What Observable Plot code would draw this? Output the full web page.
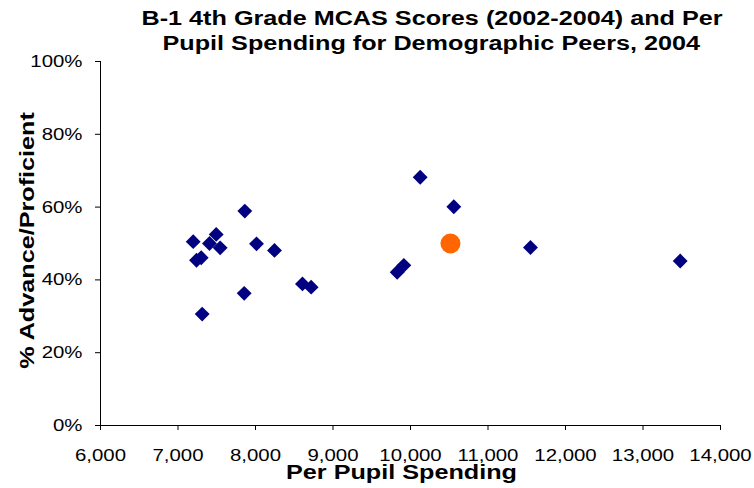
<!DOCTYPE html>
<html>
<head>
<meta charset="utf-8">
<script src="https://cdn.jsdelivr.net/npm/d3@7"></script>
<script src="https://cdn.jsdelivr.net/npm/@observablehq/plot@0.6"></script>
<style>
  html, body { margin: 0; padding: 0; background: #fff; }
  #chart svg { display: block; }
</style>
</head>
<body>
<div id="chart"></div>
<script>
// Demographic peers: per pupil spending and % Advanced/Proficient
const peerSpending = [7862, 7196, 7493, 7406, 7544, 8013, 8245, 7239, 7299, 7854, 7312, 8606, 8718, 10125, 10559, 11548, 13480, 9828, 9914];
const peerPct      = [58.9, 50.5, 52.5, 50.0, 48.8, 49.9, 48.1, 45.4, 46.1, 36.3, 30.6, 38.9, 38.0, 68.2, 60.1, 48.9, 45.2, 42.1, 44.0];
// District (highlighted)
const districtSpending = [10516];
const districtPct      = [50.0];
// Axis ticks
const xTicks = [6000, 7000, 8000, 9000, 10000, 11000, 12000, 13000, 14000];
const yTicks = [0, 20, 40, 60, 80, 100];
// Text
const titleLines = ["B-1 4th Grade MCAS Scores (2002-2004) and Per", "Pupil Spending for Demographic Peers, 2004"];
const xLabel = "Per Pupil Spending";
const yLabel = "% Advance/Proficient";

const peers = peerSpending.map((s, i) => ({spending: s, pct: peerPct[i]}));
const district = districtSpending.map((s, i) => ({spending: s, pct: districtPct[i]}));

const font = "'Liberation Sans', Arial, sans-serif";

const chart = Plot.plot({
  width: 754,
  height: 488,
  marginLeft: 100,
  marginRight: 34,
  marginTop: 61,
  marginBottom: 63,
  style: {fontFamily: font, fontSize: "17px", color: "#000", background: "#fff"},
  x: {domain: [6000, 14000]},
  y: {domain: [0, 100]},
  marks: [
    Plot.axisX({ticks: xTicks, tickFormat: d3.format(","), tickSize: 5, tickPadding: 18, label: null, fontSize: 17, stroke: "#000"}),
    Plot.axisY({ticks: yTicks, tickFormat: d => d + "%", tickSize: 5, tickPadding: 13, label: null, fontSize: 17, stroke: "#000"}),
    Plot.ruleX([6000], {y1: 0, y2: 100, stroke: "#000"}),
    Plot.ruleY([0], {stroke: "#000"}),
    Plot.dot(peers, {x: "spending", y: "pct", symbol: "diamond2", r: 6.7, fill: "#000080", stroke: "none"}),
    Plot.dot(district, {x: "spending", y: "pct", symbol: "circle", r: 10, fill: "#FF6600", stroke: "none"}),
    Plot.text([titleLines[0]], {frameAnchor: "top-left", dx: 41, dy: -37, textAnchor: "start", lineAnchor: "bottom", fontSize: 21, fontWeight: "bold", fill: "#000"}),
    Plot.text([titleLines[1]], {frameAnchor: "top-left", dx: 62, dy: -12, textAnchor: "start", lineAnchor: "bottom", fontSize: 21, fontWeight: "bold", fill: "#000"}),
    Plot.text([xLabel], {frameAnchor: "bottom", dx: -9, dy: 53, textAnchor: "middle", lineAnchor: "bottom", fontSize: 21, fontWeight: "bold", fill: "#000"}),
    Plot.text([yLabel], {frameAnchor: "left", dx: -67, dy: -3, rotate: -90, textAnchor: "middle", lineAnchor: "bottom", fontSize: 21, fontWeight: "bold", fill: "#000"})
  ]
});

document.getElementById("chart").appendChild(chart);

// The reference renders its type stretched horizontally (~1.2x): scale glyphs about each text's anchor
const stretch = 1.2;
chart.querySelectorAll("text").forEach(t => {
  const b = t.getBBox();
  if (!b.width) return;
  const anchor = getComputedStyle(t).textAnchor;
  const ax = anchor === "end" ? b.x + b.width : anchor === "middle" ? b.x + b.width / 2 : b.x;
  const prev = t.getAttribute("transform") || "";
  t.setAttribute("transform", `${prev} translate(${ax},0) scale(${stretch},1) translate(${-ax},0)`.trim());
});
</script>
</body>
</html>
